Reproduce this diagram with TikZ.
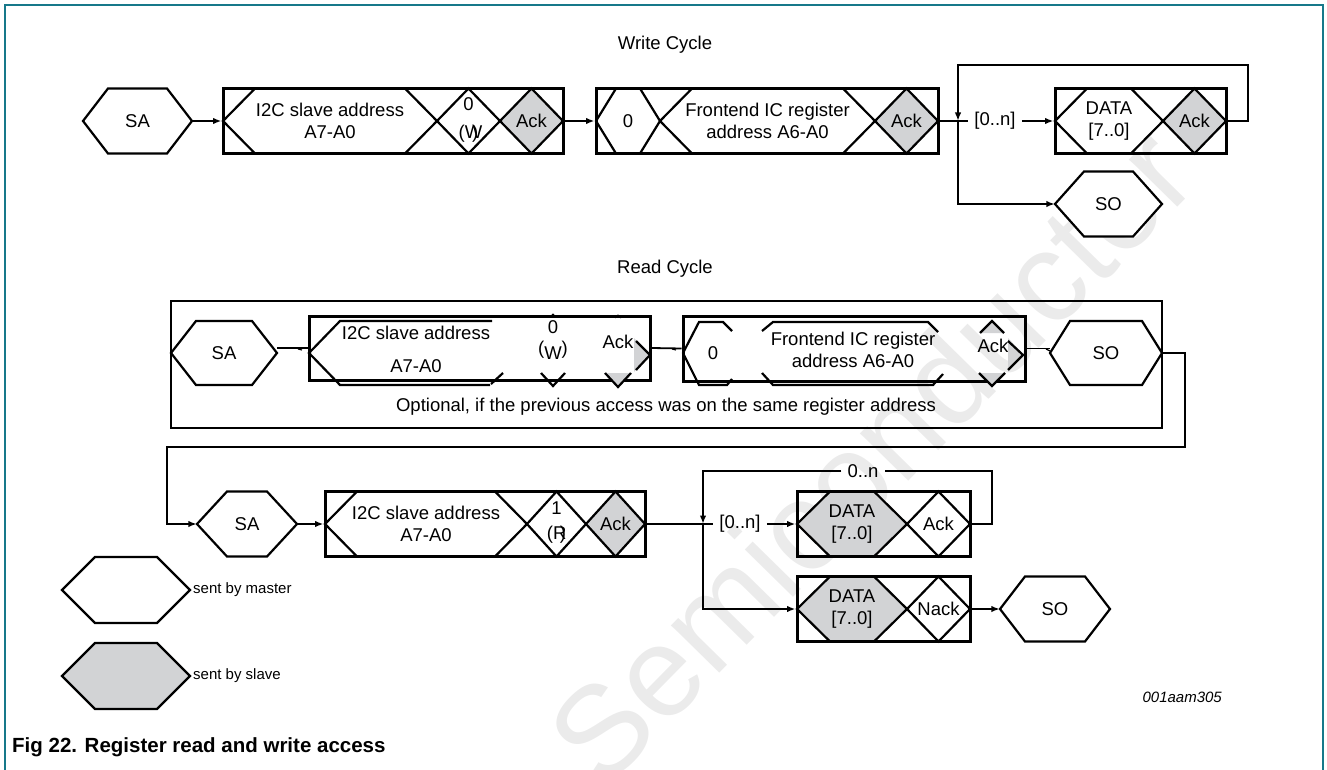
\documentclass[tikz,border=0pt]{standalone}
\usepackage{fontspec}
\setmainfont{Liberation Sans}
\usetikzlibrary{arrows.meta,calc}
\definecolor{slave}{HTML}{D2D3D5}
\definecolor{framec}{HTML}{17788A}
\newcommand\cellp[5]{%
  \filldraw[cellline,fill=#5] (#1,#3) -- ({#1+#4},{#3-32.5}) -- ({#2-#4},{#3-32.5}) -- (#2,#3) -- ({#2-#4},{#3+32.5}) -- ({#1+#4},{#3+32.5}) -- cycle;}
\newcommand\hexnode[8]{%
  \filldraw[hexline,fill=#7] (#2,#4) -- ({#2+#5},{#4-#6}) -- ({#3-#5},{#4-#6}) -- (#3,#4) -- ({#3-#5},{#4+#6}) -- ({#2+#5},{#4+#6}) -- cycle;
  \node[minimum width={#3-#2}, minimum height={2*#6}] (#1) at ({(#2+#3)/2},#4) {#8};}
\begin{document}
\begin{tikzpicture}[x=1pt,y=-1pt,
  every node/.style={font=\fontsize{18.5}{22}\selectfont, inner sep=0pt, align=center},
  cellline/.style={draw=black, line width=2.2pt, line join=miter},
  hexline/.style={draw=black, line width=2.2pt, line join=miter},
  boxn/.style={draw=black, line width=3pt},
  conn/.style={line width=1.8pt},
  arr/.style={conn, -{Latex[length=8.5pt,width=6.5pt]}},
  lbl/.style={inner xsep=6pt}]
\useasboundingbox (0,0) rectangle (1327,770);
% watermark
\node[rotate=45.5, text=black!8, font=\fontsize{128}{130}\selectfont] (wm) at (870,455) {Semiconductor};
% frame
\draw[framec, line width=2.5pt] (5,770) -- (5,5) -- (1323,5) -- (1323,770);
% titles
\node (wc) at (665,45) {Write Cycle};
\node (rc) at (665,269) {Read Cycle};
% ---------------- Row 1 ----------------
\hexnode{SA1}{83}{192}{121}{25}{32.5}{white}{SA}
\cellp{223}{437}{121}{32}{white}
\cellp{437}{500}{121}{31.5}{white}
\cellp{500}{563}{121}{31.5}{slave}
\node[boxn, minimum width=340, minimum height=65] (B1) at (393,121) {};
\node (B1a) at (330,121) {I2C slave address\\A7-A0};
\node (B1b) at (468.5,104) {0};
\node (B1c) at (468.5,134) {(W\hspace{-0.55em})};
\node (B1d) at (531.5,121) {Ack};
\draw[arr] (SA1.east) -- (B1.west);
\cellp{596}{660}{121}{20}{white}
\cellp{660}{875}{121}{32}{white}
\cellp{875}{938}{121}{31.5}{slave}
\node[boxn, minimum width=342, minimum height=65] (B2) at (767,121) {};
\node (B2a) at (628,121) {0};
\node (B2b) at (767.5,121) {Frontend IC register\\address A6-A0};
\node (B2c) at (906.5,121) {Ack};
\draw[arr] (B1.east) -- (B2.west);
\coordinate (J1) at (958,121);
\coordinate (W1) at (1248,65);
\node[lbl] (L1) at (995,121) {[0..n]};
\cellp{1055}{1163}{121}{32}{white}
\cellp{1163}{1226}{121}{31.5}{slave}
\node[boxn, minimum width=171, minimum height=65] (D1) at (1140.5,121) {};
\node (D1a) at (1109,121) {DATA\\{}[7..0]};
\node (D1b) at (1194.5,121) {Ack};
\draw[conn] (B2.east) -- (L1.west);
\draw[arr] (L1.east) -- (D1.west);
\draw[arr] (D1.east) -| (W1) -| (J1);
\hexnode{SO1}{1055}{1162}{204}{29}{32.5}{white}{SO}
\draw[arr] (J1) |- (SO1.west);
% ---------------- Read box ----------------
\node[draw=black, line width=2.5pt, minimum width=991, minimum height=127] (R) at (666.5,364.5) {};
\node (opt) at (666,407) {Optional, if the previous access was on the same register address};
\hexnode{SA2}{171}{277}{353}{25}{32}{white}{SA}
\node[boxn, minimum width=341, minimum height=64] (A2) at (479.5,348) {};
\draw[cellline] (492,321) -- (340,321) -- (309,353) -- (340,385) -- (490,385);
\draw[cellline] (491,384) -- (503,373);
\node (A2a) at (416,333) {I2C slave address};
\node (A2b) at (416,366) {A7-A0};
\node (A2c) at (553,327) {0};
\draw[line width=1pt] (550,317) -- (553,314) -- (556,317);
\node (A2d) at (553,350) {(\raisebox{-5pt}{W})};
\draw[cellline] (541,373) -- (553,386) -- (565,373);
\node (A2e) at (618,342) {Ack};
\fill[slave] (634,338) -- (650,355) -- (634,372) -- cycle;
\draw[cellline] (636,341) -- (650,355) -- (636,370);
\filldraw[cellline, fill=slave] (605,373) -- (618,387) -- (631,373);
\draw[line width=1pt] (615,318) -- (618,315) -- (621,318);
\draw[conn] (A2.west -| SA2.east) -- (A2.west);
\draw[line width=1.2pt] (298,349) -- (302,350);
\node[boxn, minimum width=342, minimum height=65] (B2r) at (854,348.5) {};
\draw[cellline] (732,331) -- (723,322) -- (699,322) -- (683,353) -- (699,385) -- (727,385) -- (732,379);
\draw[cellline] (762,331) -- (773,322) -- (928,322) -- (938,332);
\draw[cellline] (762,373) -- (773,385) -- (933,385) -- (943,374);
\node (B2ra) at (713,353) {0};
\node (B2rb) at (853,350) {Frontend IC register\\address A6-A0};
\node (B2rc) at (993,346) {Ack};
\filldraw[cellline, fill=slave] (980,333) -- (992,321) -- (1004,333);
\fill[slave] (1008,338) -- (1024,355) -- (1008,372) -- cycle;
\draw[cellline] (1008,341) -- (1023,355) -- (1008,370);
\filldraw[cellline, fill=slave] (979,373) -- (992,386) -- (1005,373);
\draw[conn] (A2.east) -- (B2r.west);
\draw[line width=1.2pt] (672,349) -- (676,350);
\hexnode{SO2}{1050}{1162}{353}{20}{32}{white}{SO}
\draw[conn] (B2r.east) -- (SO2.west |- B2r.east);
\draw[line width=1.2pt] (1046,349) -- (1050,351);
\coordinate (E1) at (1185,447);
\coordinate (E2) at (167,447);
% ---------------- Row 3 ----------------
\hexnode{SA3}{197}{297}{524}{30}{32.5}{white}{SA}
\draw[arr] (SO2.east) -| (E1) -- (E2) |- (SA3.west);
\cellp{325}{527}{524}{32}{white}
\cellp{527}{586}{524}{29.5}{white}
\cellp{586}{645}{524}{29.5}{slave}
\node[boxn, minimum width=320, minimum height=65] (B3) at (485,524) {};
\node (B3a) at (426,524) {I2C slave address\\A7-A0};
\node (B3b) at (556.5,508) {1};
\node (B3c) at (556.5,535) {(R\hspace{-0.35em})};
\node (B3d) at (615.5,524) {Ack};
\draw[arr] (SA3.east) -- (B3.west);
\coordinate (J3) at (703,524);
\coordinate (W3) at (992,471);
\node[lbl] (L3) at (740,524) {[0..n]};
\cellp{797}{907}{524}{33}{slave}
\cellp{907}{970}{524}{31.5}{white}
\node[boxn, minimum width=173, minimum height=65] (D3a) at (883.5,524) {};
\node (D3aa) at (852,524) {DATA\\{}[7..0]};
\node (D3ab) at (938.5,524) {Ack};
\draw[conn] (B3.east) -- (L3.west);
\draw[arr] (L3.east) -- (D3a.west);
\node[lbl] (N3) at (863,471) {0..n};
\draw[conn] (D3a.east) -| (W3) -- (N3.east);
\draw[arr] (N3.west) -| (J3);
\cellp{797}{907}{609}{33}{slave}
\cellp{907}{970}{609}{31.5}{white}
\node[boxn, minimum width=173, minimum height=65] (D3b) at (883.5,609) {};
\node (D3ba) at (852,609) {DATA\\{}[7..0]};
\node (D3bb) at (938.5,609) {Nack};
\draw[arr] (J3) |- (D3b.west);
\hexnode{SO3}{1000}{1110}{609}{25}{32.5}{white}{SO}
\draw[arr] (D3b.east) -- (SO3.west);
% ---------------- Legend ----------------
\hexnode{LM}{62}{190}{590}{33}{33}{white}{}
\node[anchor=west, font=\fontsize{15}{18}\selectfont] (LMt) at (193,590) {sent by master};
\hexnode{LS}{62}{190}{676}{33}{33}{slave}{}
\node[anchor=west, font=\fontsize{15}{18}\selectfont] (LSt) at (193,676) {sent by slave};
\node[anchor=east, font=\fontsize{15}{18}\selectfont\itshape] (id) at (1222,697) {001aam305};
\node[anchor=west, font=\fontsize{20.5}{24}\selectfont\bfseries] (cap) at (12,747) {Fig 22. Register read and write access};
\end{tikzpicture}
\end{document}
